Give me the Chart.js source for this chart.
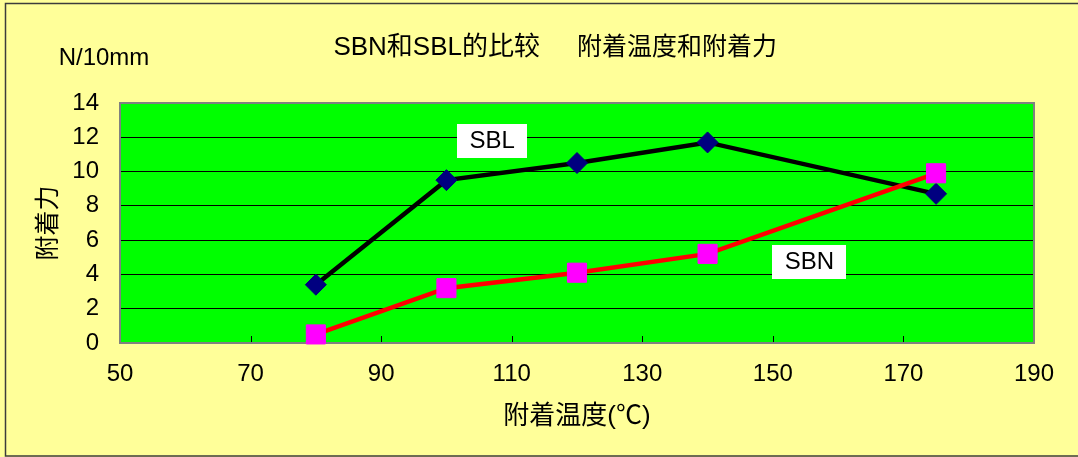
<!DOCTYPE html>
<html><head><meta charset="utf-8">
<script src="https://cdn.jsdelivr.net/npm/chart.js@4/dist/chart.umd.min.js"></script>
<style>html,body{margin:0;padding:0;background:#FFFF99;}canvas{display:block}</style>
</head><body>
<canvas id="c" width="1078" height="457" style="width:1078px;height:457px"></canvas>
<script>
// ---- data ----
const temperatures = [80, 100, 120, 140, 175];
const sblValues = [3.4, 9.5, 10.5, 11.7, 8.7];
const sbnValues = [0.5, 3.2, 4.1, 5.2, 9.9];
const seriesNames = ['SBN', 'SBL'];
const xTickValues = [50, 70, 90, 110, 130, 150, 170, 190];
const yTickValues = [0, 2, 4, 6, 8, 10, 12, 14];
const chartTitle = ['SBN和SBL的比较', '附着温度和附着力'];
const yUnit = 'N/10mm';
const xAxisTitle = '附着温度(℃)';
const yAxisTitle = '附着力';

const FONT = '"Liberation Sans", Arial, "Noto Sans CJK JP", sans-serif';

const decor = {
  id: 'decor',
  beforeDraw(chart) {
    const {ctx, chartArea: a, width, height} = chart;
    ctx.save();
    ctx.fillStyle = '#FFFF99';
    ctx.fillRect(0, 0, width, height);
    ctx.strokeStyle = '#3c3c3c';
    ctx.lineWidth = 1.5;
    ctx.strokeRect(5.5, 3.5, width, 452.5);
    ctx.fillStyle = '#00FF00';
    ctx.fillRect(a.left, a.top, a.right - a.left, a.bottom - a.top);
    ctx.fillStyle = '#000';
    ctx.textBaseline = 'middle';
    ctx.font = '26px ' + FONT;
    ctx.textAlign = 'right';
    ctx.fillText(chartTitle[0], 540, 48);
    ctx.font = '25px ' + FONT;
    ctx.textAlign = 'left';
    ctx.fillText(chartTitle[1], 577, 48);
    ctx.font = '24px ' + FONT;
    ctx.textAlign = 'center';
    ctx.fillText(yUnit, 104, 58);
    ctx.restore();
  },
  beforeDatasetsDraw(chart) {
    const {ctx, chartArea: a, scales: {x}} = chart;
    ctx.save();
    ctx.strokeStyle = '#000';
    ctx.lineWidth = 1;
    xTickValues.slice(1, -1).forEach(v => {
      const px = Math.round(x.getPixelForValue(v)) + 0.5;
      ctx.beginPath();
      ctx.moveTo(px, a.bottom);
      ctx.lineTo(px, a.bottom - 7);
      ctx.stroke();
    });
    ctx.strokeStyle = '#808080';
    ctx.lineWidth = 2;
    ctx.strokeRect(a.left, a.top, a.right - a.left, a.bottom - a.top);
    ctx.restore();
  },
  afterDatasetsDraw(chart) {
    const {ctx, scales: {x, y}} = chart;
    const anchors = {SBL: [107, 11.8], SBN: [155.6, 4.75]};
    ctx.save();
    ctx.font = '24px ' + FONT;
    ctx.textAlign = 'center';
    ctx.textBaseline = 'middle';
    seriesNames.forEach(name => {
      const [vx, vy] = anchors[name];
      const cx = x.getPixelForValue(vx), cy = y.getPixelForValue(vy);
      const w = ctx.measureText(name).width + 25, h = 34;
      ctx.fillStyle = '#FFFFFF';
      ctx.fillRect(Math.round(cx - w / 2), Math.round(cy - h / 2), Math.round(w), h);
      ctx.fillStyle = '#000';
      ctx.fillText(name, cx, cy + 1);
    });
    ctx.restore();
  }
};

new Chart(document.getElementById('c'), {
  type: 'line',
  data: {
    datasets: [
      {
        label: seriesNames[0],
        data: temperatures.map((t, i) => ({x: t, y: sbnValues[i]})),
        borderColor: '#FF0000', borderWidth: 4.5,
        pointStyle: 'rect', pointRadius: 13.5,
        pointBackgroundColor: '#FF00FF', pointBorderColor: '#FF00FF', pointBorderWidth: 1,
        tension: 0, clip: false
      },
      {
        label: seriesNames[1],
        data: temperatures.map((t, i) => ({x: t, y: sblValues[i]})),
        borderColor: '#000000', borderWidth: 4.5,
        pointStyle: 'rectRot', pointRadius: 10.5,
        pointBackgroundColor: '#000080', pointBorderColor: '#000080', pointBorderWidth: 1,
        tension: 0, clip: false
      }
    ]
  },
  options: {
    responsive: false,
    animation: false,
    devicePixelRatio: 1,
    events: [],
    layout: {padding: {top: 103, left: 0, right: 44, bottom: 0}},
    plugins: {legend: {display: false}, tooltip: {enabled: false}, title: {display: false}},
    scales: {
      x: {
        type: 'linear', min: xTickValues[0], max: xTickValues[xTickValues.length - 1],
        afterBuildTicks: s => { s.ticks = xTickValues.map(v => ({value: v})); },
        afterFit: s => { s.height = 114; },
        grid: {display: false, drawTicks: false},
        border: {display: false},
        ticks: {color: '#000', font: {size: 24, family: FONT}, padding: 17, maxRotation: 0, autoSkip: false},
        title: {display: true, text: xAxisTitle, color: '#000', font: {size: 26, family: FONT}, padding: {top: 0, bottom: 25}}
      },
      y: {
        type: 'linear', min: yTickValues[0], max: yTickValues[yTickValues.length - 1],
        afterBuildTicks: s => { s.ticks = yTickValues.map(v => ({value: v})); },
        afterFit: s => { s.width = 120; },
        grid: {color: '#000', lineWidth: 1, drawTicks: false},
        border: {display: false},
        ticks: {color: '#000', font: {size: 24, family: FONT}, padding: 21, autoSkip: false},
        title: {display: true, text: yAxisTitle, color: '#000', font: {size: 25, family: FONT}, padding: {top: 34, bottom: 0}}
      }
    }
  },
  plugins: [decor]
});
</script>
</body></html>
